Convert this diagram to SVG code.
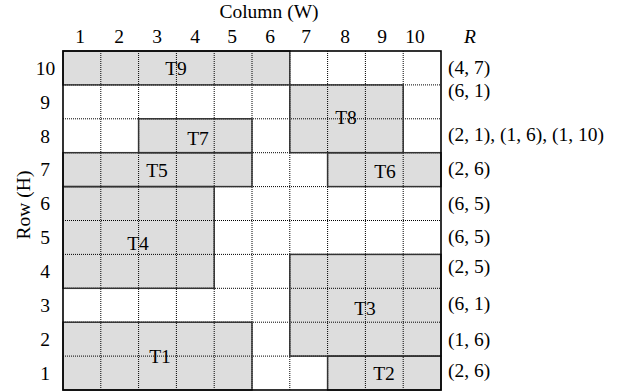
<svg xmlns="http://www.w3.org/2000/svg" width="620" height="391" viewBox="0 0 620 391">
<style>
text{font-family:"Liberation Serif","Times New Roman",serif;font-size:19.5px;fill:#000}
.c{text-anchor:middle}
.tile{fill:#dddddd;stroke:none}
.tb{fill:none;stroke:#333;stroke-width:1.5}
.grid line{stroke:#000;stroke-width:1;stroke-dasharray:1,1}
</style>
<rect width="620" height="391" fill="#fff"/>
<text class="c" x="269" y="18">Column (W)</text>
<g id="colLabels" class="c">
<text class="c" x="80" y="43">1</text>
<text class="c" x="119" y="43">2</text>
<text class="c" x="157" y="43">3</text>
<text class="c" x="195" y="43">4</text>
<text class="c" x="232" y="43">5</text>
<text class="c" x="270" y="43">6</text>
<text class="c" x="306" y="43">7</text>
<text class="c" x="345" y="43">8</text>
<text class="c" x="382" y="43">9</text>
<text class="c" x="415" y="43">10</text>
<text class="c" x="470" y="43" font-style="italic">R</text>
</g>
<g id="rowLabels">
<text class="c" x="45.5" y="75">10</text>
<text class="c" x="45" y="109">9</text>
<text class="c" x="45" y="143">8</text>
<text class="c" x="45" y="176">7</text>
<text class="c" x="45" y="210">6</text>
<text class="c" x="45" y="244">5</text>
<text class="c" x="45" y="278">4</text>
<text class="c" x="45" y="312">3</text>
<text class="c" x="45" y="346">2</text>
<text class="c" x="45" y="380">1</text>
</g>
<text class="c" transform="translate(30,205) rotate(-90)" x="0" y="0">Row (H)</text>
<g id="tiles">
<rect class="tile" x="63" y="51" width="226.8" height="33.9"/>
<rect class="tile" x="289.8" y="84.9" width="113.4" height="67.8"/>
<rect class="tile" x="138.6" y="118.8" width="113.4" height="33.9"/>
<rect class="tile" x="63" y="152.7" width="189" height="33.9"/>
<rect class="tile" x="327.6" y="152.7" width="113.4" height="33.9"/>
<rect class="tile" x="63" y="186.6" width="151.2" height="101.7"/>
<rect class="tile" x="289.8" y="254.4" width="151.2" height="101.7"/>
<rect class="tile" x="63" y="322.2" width="189" height="67.8"/>
<rect class="tile" x="327.6" y="356.1" width="113.4" height="33.9"/>
</g>
<g class="grid">
<line x1="100.8" y1="51" x2="100.8" y2="390"/>
<line x1="138.6" y1="51" x2="138.6" y2="390"/>
<line x1="176.4" y1="51" x2="176.4" y2="390"/>
<line x1="214.2" y1="51" x2="214.2" y2="390"/>
<line x1="252" y1="51" x2="252" y2="390"/>
<line x1="289.8" y1="51" x2="289.8" y2="390"/>
<line x1="327.6" y1="51" x2="327.6" y2="390"/>
<line x1="365.4" y1="51" x2="365.4" y2="390"/>
<line x1="403.2" y1="51" x2="403.2" y2="390"/>
<line x1="63" y1="84.9" x2="441" y2="84.9"/>
<line x1="63" y1="118.8" x2="441" y2="118.8"/>
<line x1="63" y1="152.7" x2="441" y2="152.7"/>
<line x1="63" y1="186.6" x2="441" y2="186.6"/>
<line x1="63" y1="220.5" x2="441" y2="220.5"/>
<line x1="63" y1="254.4" x2="441" y2="254.4"/>
<line x1="63" y1="288.3" x2="441" y2="288.3"/>
<line x1="63" y1="322.2" x2="441" y2="322.2"/>
<line x1="63" y1="356.1" x2="441" y2="356.1"/>
</g>
<g id="tileBorders">
<rect id="T9" class="tb" x="63" y="51" width="226.8" height="33.9"/>
<rect id="T8" class="tb" x="289.8" y="84.9" width="113.4" height="67.8"/>
<rect id="T7" class="tb" x="138.6" y="118.8" width="113.4" height="33.9"/>
<rect id="T5" class="tb" x="63" y="152.7" width="189" height="33.9"/>
<rect id="T6" class="tb" x="327.6" y="152.7" width="113.4" height="33.9"/>
<rect id="T4" class="tb" x="63" y="186.6" width="151.2" height="101.7"/>
<rect id="T3" class="tb" x="289.8" y="254.4" width="151.2" height="101.7"/>
<rect id="T1" class="tb" x="63" y="322.2" width="189" height="67.8"/>
<rect id="T2" class="tb" x="327.6" y="356.1" width="113.4" height="33.9"/>
</g>
<rect x="63" y="51" width="378" height="339" fill="none" stroke="#000" stroke-width="1.6"/>
<g id="tileLabels">
<text class="c" x="176" y="75">T9</text>
<text class="c" x="346" y="124">T8</text>
<text class="c" x="198" y="145">T7</text>
<text class="c" x="157" y="177">T5</text>
<text class="c" x="385" y="178">T6</text>
<text class="c" x="138" y="250">T4</text>
<text class="c" x="365" y="315">T3</text>
<text class="c" x="160" y="363">T1</text>
<text class="c" x="384" y="380">T2</text>
</g>
<g id="rValues">
<text x="448" y="74">(4, 7)</text>
<text x="448" y="97">(6, 1)</text>
<text x="448" y="141">(2, 1), (1, 6), (1, 10)</text>
<text x="448" y="175">(2, 6)</text>
<text x="448" y="210">(6, 5)</text>
<text x="448" y="243">(6, 5)</text>
<text x="448" y="273">(2, 5)</text>
<text x="448" y="310">(6, 1)</text>
<text x="448" y="346">(1, 6)</text>
<text x="448" y="377">(2, 6)</text>
</g>
</svg>
